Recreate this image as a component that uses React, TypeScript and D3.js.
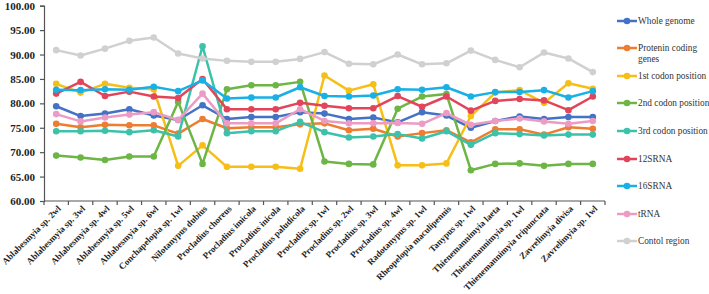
import React, { useEffect, useRef } from 'react';
import * as d3 from 'd3';

const categories = [
  'Ablabesmyia sp. 2wl', 'Ablabesmyia sp. 3wl', 'Ablabesmyia sp. 4wl', 'Ablabesmyia sp. 5wl',
  'Ablabesmyia sp. 6wl', 'Conchapelopia sp. 1wl', 'Nilotanypus dubius', 'Procladius choreus',
  'Procladius imicola', 'Procladius inicola', 'Procladius paludicola', 'Procladius sp. 1wl',
  'Procladius sp. 2wl', 'Procladius sp. 3wl', 'Procladius sp. 4wl', 'Radotanypus sp. 1wl',
  'Rheopelopia maculipennis', 'Tanypus sp. 1wl', 'Thienemannimyia laeta', 'Thienemannimyia sp. 1wl',
  'Thienemannimyia tripunctata', 'Zavrelimyia divisa', 'Zavrelimyia sp. 1wl',
];

const wholeGenome = [79.4, 77.4, 77.9, 78.8, 77.5, 76.6, 79.6, 76.8, 77.2, 77.2, 78.2, 77.9, 76.8, 77.1, 76.1, 78.2, 77.5, 75.0, 76.4, 77.3, 76.8, 77.2, 77.2];
const proteinCoding = [75.8, 75.1, 75.6, 75.5, 75.5, 73.8, 76.8, 74.9, 75.1, 75.1, 75.7, 75.9, 74.5, 74.8, 73.2, 73.9, 74.5, 72.0, 74.7, 74.7, 73.6, 75.1, 74.8];
const firstCodon = [84.0, 82.2, 84.0, 83.2, 82.9, 67.2, 71.4, 67.0, 67.0, 67.0, 66.6, 85.7, 82.6, 83.9, 67.3, 67.3, 67.7, 77.4, 82.2, 82.7, 80.1, 84.1, 83.0];
const secondCodon = [69.3, 68.9, 68.4, 69.1, 69.1, 80.3, 67.6, 82.9, 83.7, 83.7, 84.4, 68.1, 67.6, 67.5, 78.9, 81.4, 81.9, 66.3, 67.6, 67.7, 67.2, 67.6, 67.6];
const thirdCodon = [74.3, 74.3, 74.4, 74.1, 74.5, 73.2, 91.7, 73.9, 74.3, 74.3, 76.2, 74.1, 73.0, 73.2, 73.7, 72.8, 74.3, 71.5, 73.9, 73.7, 73.4, 73.6, 73.6];
const rna12s = [82.0, 84.4, 81.5, 82.4, 81.4, 81.1, 85.0, 78.8, 78.8, 78.8, 80.1, 79.5, 79.0, 79.0, 81.5, 79.3, 81.4, 78.5, 80.5, 80.9, 80.6, 78.6, 81.4];
const rna16s = [82.8, 82.7, 82.9, 82.8, 83.4, 82.5, 84.7, 81.0, 81.2, 81.2, 83.3, 81.5, 81.4, 81.6, 82.9, 82.8, 83.3, 81.4, 82.3, 82.3, 82.7, 81.2, 82.5];
const trna = [77.8, 76.3, 77.1, 77.7, 78.2, 76.6, 82.0, 75.9, 75.9, 75.9, 78.8, 76.4, 75.9, 75.9, 76.0, 75.8, 78.0, 75.6, 76.4, 76.9, 76.3, 75.8, 76.4];
const controlRegion = [90.9, 89.8, 91.2, 92.8, 93.5, 90.2, 89.2, 88.7, 88.5, 88.5, 89.1, 90.5, 88.1, 88.0, 90.0, 88.0, 88.2, 90.8, 88.9, 87.4, 90.4, 89.2, 86.4];

const seriesNames = [
  'Whole genome', 'Protenin coding genes', '1st codon position', '2nd codon position',
  '3rd codon position', '12SRNA', '16SRNA', 'tRNA', 'Contol region',
];
const seriesValues = [wholeGenome, proteinCoding, firstCodon, secondCodon, thirdCodon, rna12s, rna16s, trna, controlRegion];
const seriesColors = ['#4472C4', '#ED7D31', '#F7BE16', '#6DB544', '#3CC1AA', '#E2455A', '#19B0E6', '#EC9CC4', '#D0D0D0'];
const yTicks = [60, 65, 70, 75, 80, 85, 90, 95, 100];

const W = 709;
const H = 294;
const serif = "'Liberation Serif', 'Times New Roman', serif";

const App = () => {
  const ref = useRef<SVGSVGElement>(null);

  useEffect(() => {
    const svg = d3.select(ref.current);
    svg.selectAll('*').remove();

    const x = d3.scaleBand<string>().domain(categories).range([44, 605]);
    const y = d3.scaleLinear().domain([60, 100]).range([201, 5.7]);
    const cx = (c: string) => (x(c) as number) + x.bandwidth() / 2;

    // y axis
    const yAxis = d3.axisLeft(y).tickValues(yTicks).tickFormat(d3.format('.2f')).tickSize(4).tickPadding(5);
    const gy = svg.append('g').attr('transform', 'translate(44,0)').call(yAxis);
    gy.selectAll('text')
      .attr('font-family', serif)
      .attr('font-weight', 'bold')
      .attr('font-size', 11)
      .attr('fill', '#222');
    gy.selectAll('line, path').attr('stroke', '#555').attr('stroke-width', 1.2);

    // x axis: line, boundary ticks, rotated labels
    const gx = svg.append('g');
    gx.append('line')
      .attr('x1', 44).attr('x2', 605).attr('y1', 201).attr('y2', 201)
      .attr('stroke', '#555').attr('stroke-width', 1.2);
    const bounds = categories.map(c => x(c) as number).concat([605]);
    gx.selectAll('.xt')
      .data(bounds)
      .enter()
      .append('line')
      .attr('x1', d => d).attr('x2', d => d)
      .attr('y1', 201).attr('y2', 205)
      .attr('stroke', '#555').attr('stroke-width', 1.2);
    gx.selectAll('.xl')
      .data(categories)
      .enter()
      .append('text')
      .attr('transform', d => `translate(${cx(d) + 3},${207}) rotate(-45)`)
      .attr('text-anchor', 'end')
      .attr('dy', '0.35em')
      .attr('font-family', serif)
      .attr('font-weight', 'bold')
      .attr('font-size', 9)
      .attr('fill', '#222')
      .text(d => d);

    // series
    const line = d3.line<number>()
      .x((_, i) => cx(categories[i]))
      .y(d => y(d));

    seriesValues.forEach((vals, si) => {
      const g = svg.append('g');
      g.append('path')
        .datum(vals)
        .attr('d', line)
        .attr('fill', 'none')
        .attr('stroke', seriesColors[si])
        .attr('stroke-width', 2.5)
        .attr('stroke-linejoin', 'round');
      g.selectAll('circle')
        .data(vals)
        .enter()
        .append('circle')
        .attr('cx', (_, i) => cx(categories[i]))
        .attr('cy', d => y(d))
        .attr('r', 3.3)
        .attr('fill', seriesColors[si]);
    });

    // legend
    const legendY = [21, 48, 76, 103, 131, 159, 186, 214, 241];
    const lg = svg.append('g');
    seriesNames.forEach((name, i) => {
      const ly = legendY[i];
      lg.append('line')
        .attr('x1', 617).attr('x2', 637).attr('y1', ly).attr('y2', ly)
        .attr('stroke', seriesColors[i]).attr('stroke-width', 2.5);
      lg.append('circle')
        .attr('cx', 627).attr('cy', ly).attr('r', 3.3)
        .attr('fill', seriesColors[i]);
      const t = lg.append('text')
        .attr('x', 638)
        .attr('y', ly)
        .attr('dy', '0.35em')
        .attr('font-family', serif)
        .attr('font-size', 9.3)
        .attr('fill', '#333');
      if (name === 'Protenin coding genes') {
        t.append('tspan').attr('x', 638).text('Protenin coding');
        t.append('tspan').attr('x', 638).attr('dy', '1.15em').text('genes');
      } else {
        t.text(name);
      }
    });
  }, []);

  return (
    <svg
      ref={ref}
      width={W}
      height={H}
      style={{ position: 'absolute', left: 0, top: 0, background: '#fff' }}
    />
  );
};

export default App;
